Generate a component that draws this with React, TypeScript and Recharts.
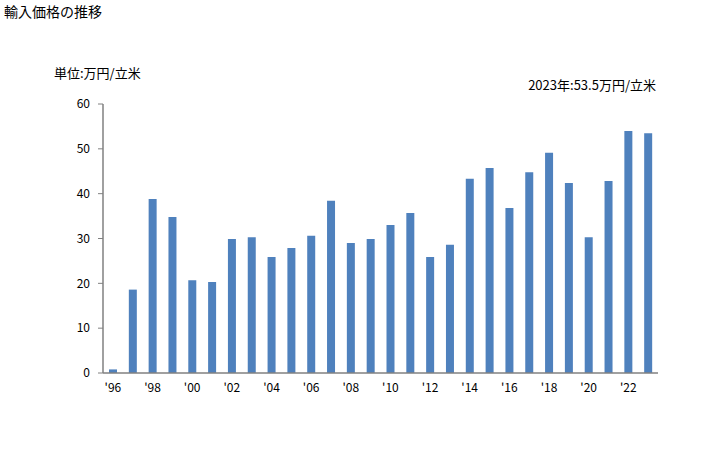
import React from 'react';
import { BarChart, Bar, XAxis, YAxis } from 'recharts';

const years: number[] = [1996, 1997, 1998, 1999, 2000, 2001, 2002, 2003, 2004, 2005, 2006, 2007, 2008, 2009, 2010, 2011, 2012, 2013, 2014, 2015, 2016, 2017, 2018, 2019, 2020, 2021, 2022, 2023];
const prices: number[] = [0.8, 18.6, 38.8, 34.8, 20.7, 20.3, 29.9, 30.3, 25.9, 27.9, 30.6, 38.4, 29.0, 29.9, 33.0, 35.7, 25.9, 28.6, 43.3, 45.7, 36.8, 44.8, 49.1, 42.4, 30.3, 42.8, 54.0, 53.5];
const yTicks: number[] = [0, 10, 20, 30, 40, 50, 60];

const data = years.map((y, i) => ({ year: y, value: prices[i] }));

const FONT = '"Noto Sans CJK JP", "Noto Sans", sans-serif';

export default function App() {
  return (
    <div style={{ position: 'fixed', left: 0, top: 0, width: 728, height: 450, background: '#fff', fontFamily: FONT }}>
      <div style={{ position: 'absolute', left: 4, top: 1, fontSize: 14, color: '#000', whiteSpace: 'nowrap' }}>輸入価格の推移</div>
      <div style={{ position: 'absolute', left: 54, top: 63, fontSize: 13, color: '#000', whiteSpace: 'nowrap' }}>単位:万円/立米</div>
      <div style={{ position: 'absolute', right: 72, top: 75, fontSize: 13, color: '#000', whiteSpace: 'nowrap' }}>2023年:53.5万円/立米</div>
      <BarChart
        width={728}
        height={450}
        data={data}
        margin={{ top: 104, right: 70, bottom: 0, left: 0 }}
        barSize={8}
      >
        <XAxis
          dataKey="year"
          xAxisId="bottom"
          height={77}
          interval={1}
          tickFormatter={(v: number) => "'" + String(v).slice(2)}
          tickLine={false}
          tickSize={0}
          tickMargin={10}
          axisLine={{ stroke: '#808080', strokeWidth: 1.5 }}
          tick={{ fill: '#000', fontSize: 12, fontFamily: FONT }}
        />
        <XAxis
          dataKey="year"
          xAxisId="top"
          orientation="top"
          height={0}
          tick={false}
          tickLine={false}
          axisLine={{ stroke: '#968B4B', strokeWidth: 1.5 }}
        />
        <YAxis
          yAxisId="left"
          width={103}
          domain={[0, 60]}
          ticks={yTicks}
          tickSize={5}
          tickMargin={8}
          tickLine={{ stroke: '#808080' }}
          axisLine={{ stroke: '#808080', strokeWidth: 1.5 }}
          tick={{ fill: '#000', fontSize: 12, fontFamily: FONT }}
        />
        <YAxis
          yAxisId="right"
          orientation="right"
          width={0}
          domain={[0, 60]}
          tick={false}
          tickLine={false}
          axisLine={{ stroke: '#968B4B', strokeWidth: 1.5 }}
        />
        <Bar dataKey="value" xAxisId="bottom" yAxisId="left" fill="#4F81BD" isAnimationActive={false} />
      </BarChart>
    </div>
  );
}
